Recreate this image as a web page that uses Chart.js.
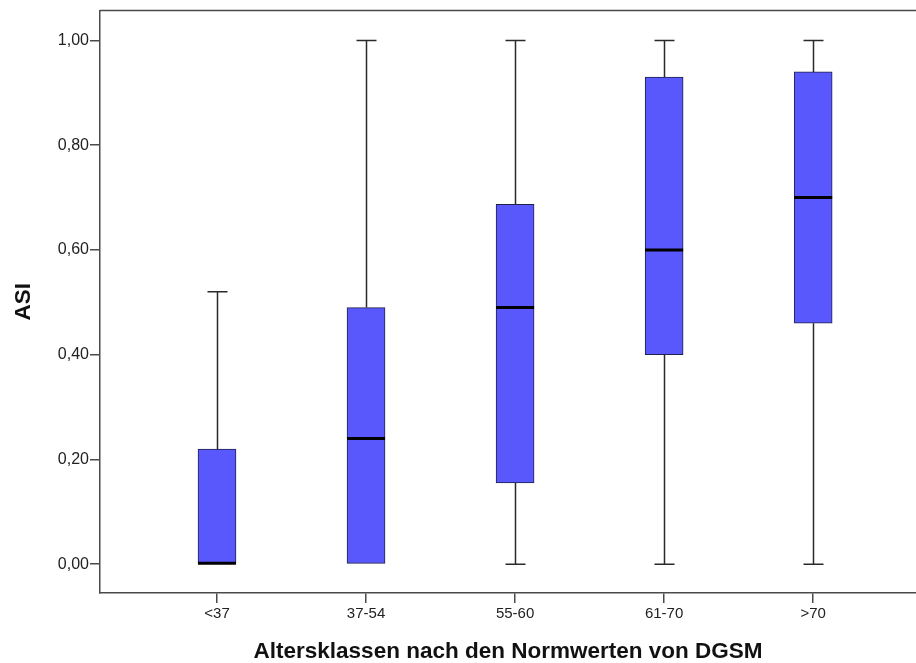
<!DOCTYPE html>
<html>
<head>
<meta charset="utf-8">
<script src="https://cdn.jsdelivr.net/npm/chart.js@4/dist/chart.umd.min.js"></script>
<style>
  html, body { margin: 0; padding: 0; background: #fff; }
  #wrap { width: 916px; height: 663px; }
</style>
</head>
<body>
<div id="wrap"><canvas id="boxChart" width="916" height="663"></canvas></div>
<script>
// ─── DATA ─────────────────────────────────────────────────────
// Age classes (DGSM norm values) and the box plot statistics of ASI
const categories = ['<37', '37-54', '55-60', '61-70', '>70'];
const whiskerMin = [0.00, 0.00, 0.00, 0.00, 0.00];
const quart1     = [0.00, 0.00, 0.155, 0.40, 0.46];
const medians    = [0.00, 0.24, 0.49, 0.60, 0.70];
const quart3     = [0.22, 0.49, 0.687, 0.93, 0.94];
const whiskerMax = [0.52, 1.00, 1.00, 1.00, 1.00];
const yTicks     = [0, 0.2, 0.4, 0.6, 0.8, 1.0];

const AXIS_COLOR = '#4a4a4a';
const FONT = "'Liberation Sans', Arial, sans-serif";

// ─── WHISKERS, MEDIANS, FRAME ─────────────────────────────────
const boxExtras = {
  id: 'boxExtras',
  beforeDatasetsDraw(chart) {
    const { ctx, scales: { x, y } } = chart;
    ctx.save();
    ctx.strokeStyle = '#2a2a2a';
    ctx.lineWidth = 1.5;
    categories.forEach((_, i) => {
      const cx = Math.round(x.getPixelForValue(i + 1)) + 0.5;
      const yMax = y.getPixelForValue(whiskerMax[i]);
      const yMin = y.getPixelForValue(whiskerMin[i]);
      ctx.beginPath();
      ctx.moveTo(cx, yMax); ctx.lineTo(cx, y.getPixelForValue(quart3[i]));
      ctx.moveTo(cx, yMin); ctx.lineTo(cx, y.getPixelForValue(quart1[i]));
      ctx.moveTo(cx - 10, yMax); ctx.lineTo(cx + 10, yMax);
      if (whiskerMin[i] < quart1[i]) { ctx.moveTo(cx - 10, yMin); ctx.lineTo(cx + 10, yMin); }
      ctx.stroke();
    });
    ctx.restore();
  },
  afterDatasetsDraw(chart) {
    const { ctx, chartArea, scales: { x, y } } = chart;
    const bars = chart.getDatasetMeta(0).data;
    ctx.save();
    ctx.strokeStyle = '#000';
    ctx.lineWidth = 3;
    categories.forEach((_, i) => {
      const half = bars[i].width / 2;
      const cx = x.getPixelForValue(i + 1);
      let my = y.getPixelForValue(medians[i]);
      if (medians[i] === quart1[i]) my -= 1;
      ctx.beginPath();
      ctx.moveTo(cx - half, my); ctx.lineTo(cx + half, my);
      ctx.stroke();
    });
    // top frame line
    ctx.strokeStyle = AXIS_COLOR;
    ctx.lineWidth = 1.5;
    ctx.beginPath();
    ctx.moveTo(chartArea.left, chartArea.top);
    ctx.lineTo(chartArea.right, chartArea.top);
    ctx.stroke();
    ctx.restore();
  },
};

// ─── CHART ────────────────────────────────────────────────────
new Chart(document.getElementById('boxChart'), {
  type: 'bar',
  data: {
    datasets: [{
      data: categories.map((_, i) => ({ x: i + 1, y: [quart1[i], quart3[i]] })),
      backgroundColor: '#5858fd',
      borderColor: '#20204a',
      borderWidth: 1,
      borderSkipped: false,
      barThickness: 38,
    }],
  },
  options: {
    responsive: false,
    animation: false,
    layout: { padding: { top: 10, right: 0, left: 0, bottom: 0 } },
    plugins: { legend: { display: false }, tooltip: { enabled: false } },
    scales: {
      x: {
        type: 'linear',
        offset: false,
        min: 0.215,
        max: 5.69,
        afterBuildTicks: s => { s.ticks = categories.map((_, i) => ({ value: i + 1 })); },
        afterFit: s => { s.height = 70; },
        grid: { offset: false, drawOnChartArea: false, drawTicks: true, tickLength: 10, tickColor: AXIS_COLOR, lineWidth: 1.5 },
        border: { display: true, color: AXIS_COLOR, width: 1.5 },
        ticks: {
          callback: v => categories[v - 1],
          color: '#222',
          padding: 2,
          maxRotation: 0,
          font: { family: FONT, size: 15 },
        },
        title: {
          display: true,
          text: 'Altersklassen nach den Normwerten von DGSM',
          color: '#111',
          padding: { top: 0, bottom: 0 },
          font: { family: FONT, size: 22.5, weight: 'bold', lineHeight: 1 },
        },
      },
      y: {
        min: -0.055,
        max: 1.057,
        afterBuildTicks: s => { s.ticks = yTicks.map(v => ({ value: v })); },
        afterFit: s => { s.width = 100; },
        grid: { drawOnChartArea: false, drawTicks: true, tickLength: 10, tickColor: AXIS_COLOR, lineWidth: 1.5 },
        border: { display: true, color: AXIS_COLOR, width: 1.5 },
        ticks: {
          callback: v => v.toFixed(2).replace('.', ','),
          color: '#222',
          padding: 1,
          font: { family: FONT, size: 16 },
        },
        title: {
          display: true,
          text: 'ASI',
          color: '#111',
          padding: { top: 13, bottom: 0 },
          font: { family: FONT, size: 22.5, weight: 'bold', lineHeight: 1 },
        },
      },
    },
  },
  plugins: [boxExtras],
});
</script>
</body>
</html>
